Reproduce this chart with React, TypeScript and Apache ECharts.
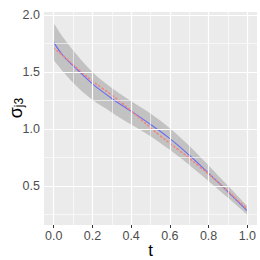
import React, { useEffect, useRef } from "react";
import * as echarts from "echarts";

const tValues = [0, 0.05, 0.1, 0.15, 0.2, 0.25, 0.3, 0.35, 0.4, 0.45, 0.5, 0.55, 0.6, 0.65, 0.7, 0.75, 0.8, 0.85, 0.9, 0.95, 1.0];
const estimate = [1.76, 1.64, 1.555, 1.475, 1.395, 1.33, 1.268, 1.21, 1.155, 1.1, 1.04, 0.98, 0.915, 0.845, 0.77, 0.692, 0.612, 0.531, 0.449, 0.366, 0.282];
const truth = [1.71, 1.64, 1.565, 1.49, 1.42, 1.358, 1.297, 1.232, 1.16, 1.085, 1.01, 0.94, 0.875, 0.81, 0.745, 0.675, 0.605, 0.53, 0.455, 0.375, 0.3];
const lower = [1.605, 1.5, 1.405, 1.325, 1.257, 1.199, 1.145, 1.09, 1.04, 0.99, 0.937, 0.878, 0.817, 0.752, 0.684, 0.614, 0.542, 0.47, 0.396, 0.322, 0.246];
const upper = [1.93, 1.8, 1.69, 1.59, 1.5, 1.425, 1.36, 1.3, 1.245, 1.19, 1.135, 1.074, 1.007, 0.933, 0.852, 0.767, 0.68, 0.591, 0.502, 0.413, 0.325];
const xTicks = [0, 0.2, 0.4, 0.6, 0.8, 1.0];
const xMinor = [0.1, 0.3, 0.5, 0.7, 0.9];
const yTicks = [0.5, 1.0, 1.5, 2.0];
const yMinor = [0.25, 0.75, 1.25, 1.75];

function bezierThrough(pts: number[][], start: string): string {
  let d = start + " " + pts[0][0] + " " + pts[0][1];
  const n = pts.length;
  for (let i = 0; i < n - 1; i++) {
    const p0 = pts[Math.max(i - 1, 0)];
    const p1 = pts[i];
    const p2 = pts[i + 1];
    const p3 = pts[Math.min(i + 2, n - 1)];
    const c1x = p1[0] + (p2[0] - p0[0]) / 6;
    const c1y = p1[1] + (p2[1] - p0[1]) / 6;
    const c2x = p2[0] - (p3[0] - p1[0]) / 6;
    const c2y = p2[1] - (p3[1] - p1[1]) / 6;
    d += ` C ${c1x} ${c1y} ${c2x} ${c2y} ${p2[0]} ${p2[1]}`;
  }
  return d;
}

export default function App() {
  const ref = useRef<HTMLDivElement>(null);
  useEffect(() => {
    if (!ref.current) return;
    const chart = echarts.init(ref.current, null, { renderer: "svg" });
    const band = tValues.map((t, i) => [t, lower[i], upper[i]]);
    const gridMarks = [
      ...xMinor.map((v) => ({ xAxis: v, lineStyle: { width: 0.6 } })),
      ...yMinor.map((v) => ({ yAxis: v, lineStyle: { width: 0.6 } })),
      ...xTicks.map((v) => ({ xAxis: v, lineStyle: { width: 1.2 } })),
      ...yTicks.map((v) => ({ yAxis: v, lineStyle: { width: 1.2 } })),
    ];
    const font = "'Liberation Sans', Arial, sans-serif";
    chart.setOption({
      animation: false,
      grid: { left: 44, top: 12, right: 3, bottom: 35, show: true, backgroundColor: "#EBEBEB", borderWidth: 0 },
      xAxis: {
        type: "value",
        min: -0.05,
        max: 1.05,
        axisLine: { show: false },
        splitLine: { show: false },
        axisTick: { show: true, length: 3, lineStyle: { color: "#333333", width: 1 }, customValues: xTicks },
        axisLabel: {
          customValues: xTicks,
          formatter: (v: number) => v.toFixed(1),
          color: "#4D4D4D",
          fontSize: 12.5,
          fontFamily: font,
          margin: 4,
        },
      },
      yAxis: {
        type: "value",
        min: 0.158,
        max: 2.026,
        axisLine: { show: false },
        splitLine: { show: false },
        axisTick: { show: true, length: 3, lineStyle: { color: "#333333", width: 1 }, customValues: yTicks },
        axisLabel: {
          customValues: yTicks,
          formatter: (v: number) => v.toFixed(1),
          color: "#4D4D4D",
          fontSize: 12.5,
          fontFamily: font,
          margin: 4,
        },
      },
      graphic: [
        {
          type: "text",
          x: 150.5,
          y: 250,
          style: { text: "t", fontSize: 17, fontFamily: font, fill: "#000", align: "center", verticalAlign: "middle" },
        },
        {
          type: "text",
          x: 15,
          y: 108,
          rotation: Math.PI / 2,
          style: {
            text: "{a|σ}{b|j3}",
            align: "center",
            verticalAlign: "middle",
            fill: "#000",
            rich: {
              a: { fontSize: 18, fontFamily: font, fill: "#000", lineHeight: 20, verticalAlign: "bottom" },
              b: { fontSize: 12, fontFamily: font, fill: "#000", lineHeight: 20, verticalAlign: "bottom", padding: [7, 0, 0, 0] },
            },
          },
        },
      ],
      series: [
        {
          type: "line",
          data: [],
          silent: true,
          z: 1,
          markLine: {
            silent: true,
            symbol: "none",
            label: { show: false },
            lineStyle: { color: "#FFFFFF", type: "solid" },
            data: gridMarks,
          },
        },
        {
          type: "custom",
          silent: true,
          data: band,
          encode: { x: 0, y: [1, 2] },
          z: 2,
          renderItem: (params: any, api: any) => {
            if (params.dataIndex !== 0) return null;
            const top = band.map((d) => api.coord([d[0], d[2]]));
            const bot = band.map((d) => api.coord([d[0], d[1]])).reverse();
            const pathData = bezierThrough(top, "M") + " " + bezierThrough(bot, "L") + " Z";
            return {
              type: "path",
              shape: { pathData },
              style: { fill: "#C2C2C2", stroke: "none" },
            };
          },
        },
        {
          type: "line",
          data: tValues.map((t, i) => [t, estimate[i]]),
          smooth: 0.4,
          symbol: "none",
          lineStyle: { color: "#6A6AF6", width: 1.1 },
          z: 3,
        },
        {
          type: "line",
          data: tValues.map((t, i) => [t, truth[i]]),
          smooth: 0.4,
          symbol: "none",
          lineStyle: { color: "#F4837A", width: 1.6, type: [1.2, 3], cap: "round" },
          z: 4,
        },
      ],
    });
    return () => chart.dispose();
  }, []);
  return <div ref={ref} style={{ width: 260, height: 260, position: "absolute", left: 0, top: 0 }} />;
}
